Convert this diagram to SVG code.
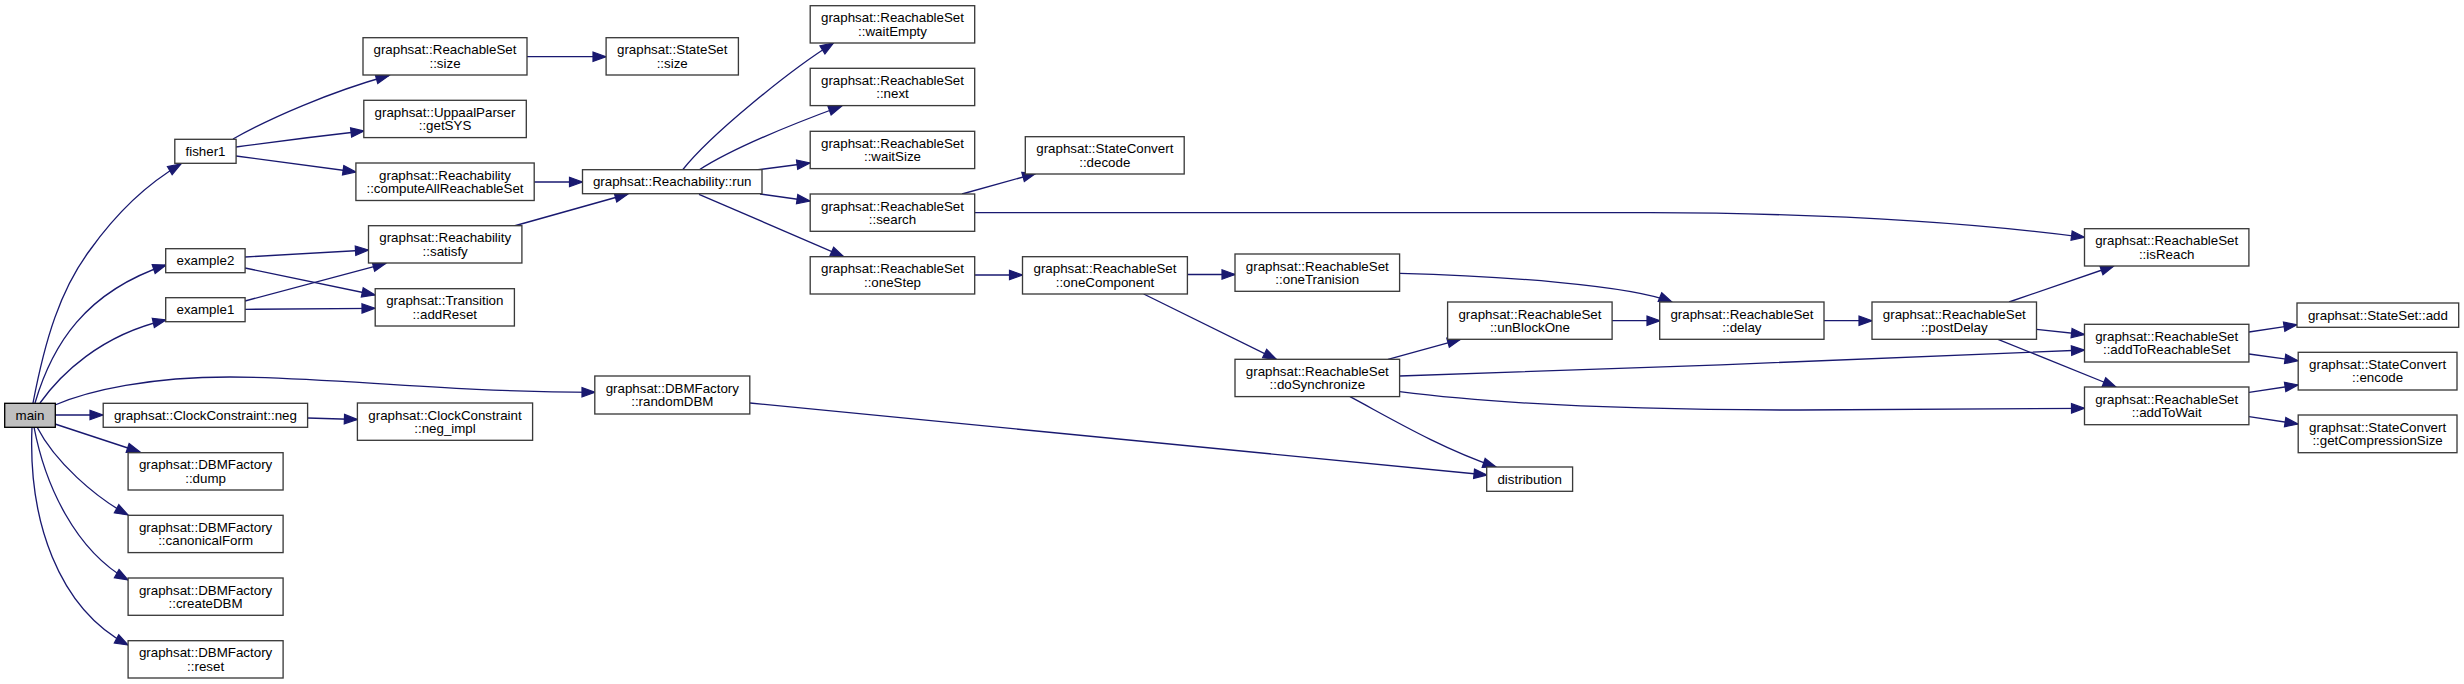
<svg xmlns="http://www.w3.org/2000/svg" width="2464" height="684" viewBox="0 0 2464 684">
<style>
.node rect{fill:#ffffff;stroke:#3a3a3a;stroke-width:1.33}
.node.root rect{fill:#bfbfbf;stroke:#000000}
.node text{font-family:"Liberation Sans",Arial,Helvetica,sans-serif;font-size:13.33px;text-anchor:middle;fill:#000000}
.edges path{fill:none;stroke:#191970;stroke-width:1.33;marker-end:url(#arrow)}
</style>
<defs>
<marker id="arrow" markerUnits="userSpaceOnUse" markerWidth="16" markerHeight="12" refX="14" refY="6" orient="auto" overflow="visible">
<path d="M1,1.3 L14,6 L1,10.7 z" fill="#191970" stroke="#191970" stroke-width="1.2"/>
</marker>
</defs>
<rect x="0" y="0" width="2464" height="684" fill="#ffffff"/>
<g id="connectors" class="edges">
<path d="M33,403 C45,340 60,290 90,250 C115,215 145,185 181,164"/>
<path d="M35,403 C52,345 85,292 166,265"/>
<path d="M40,403 C60,375 100,335 166,320"/>
<path d="M55,405 C90,390 150,377 230,377 C330,377 440,392 595,392.3"/>
<path d="M55,415 L103,415"/>
<path d="M55,424 L140,452"/>
<path d="M37,427 C55,462 95,497 128,515"/>
<path d="M34,427 C45,485 75,550 128,580"/>
<path d="M32,427 C28,520 58,608 128,645"/>
<path d="M233,139 C270,118 330,92 389,75.5"/>
<path d="M236,147 C280,141 320,136 364,131"/>
<path d="M236,156 C280,162 320,167 356,172"/>
<path d="M245,257 L368.5,250"/>
<path d="M245,268 L375,295"/>
<path d="M245,301 L386,263.3"/>
<path d="M245,309.3 L375,308.3"/>
<path d="M527,56.7 L606,56.7"/>
<path d="M534,182 L582.5,182"/>
<path d="M514,226 L628,194"/>
<path d="M307.6,418 L357.4,419.5"/>
<path d="M750,403 L1487,475"/>
<path d="M682.5,170 C710,135 790,70 833.5,43"/>
<path d="M699,170 C730,150 790,125 841.7,106"/>
<path d="M756,170 L810,163"/>
<path d="M760,194 L810,201"/>
<path d="M699,194.3 L843.7,256.7"/>
<path d="M962,194 L1035.6,173.5"/>
<path d="M975,212.7 L1650,212.7 C1800,213 1950,220 2084.5,237.3"/>
<path d="M974.7,275 L1022.5,275"/>
<path d="M1187.4,274.5 L1235,274.5"/>
<path d="M1143.7,294 L1276.3,359.3"/>
<path d="M1400,273.3 C1500,276 1630,285 1672,302"/>
<path d="M1388,359.3 L1460.6,339.3"/>
<path d="M1399.6,376 C1600,370 1900,358 2084.5,350"/>
<path d="M1399.6,391.7 C1480,402 1600,410 1800,410 L2084.5,408.3"/>
<path d="M1350,396.7 C1390,418 1440,448 1496,467"/>
<path d="M1612,320.7 L1660,320.7"/>
<path d="M1824,320.7 L1872,320.7"/>
<path d="M2009,302 L2113.7,266"/>
<path d="M2036.5,329.3 L2084.5,334.5"/>
<path d="M1998,339.3 L2116,387"/>
<path d="M2249,332 L2297,324.7"/>
<path d="M2249,354 L2298,360.7"/>
<path d="M2249,392.3 L2298,385"/>
<path d="M2249,416.7 L2298,424"/>
</g>
<g id="n_main" class="node root"><rect x="4.7" y="403.3" width="50.6" height="24"/><text x="30" y="420">main</text></g>
<g id="n_fisher1" class="node"><rect x="174.8" y="139.3" width="61.3" height="24"/><text x="205.5" y="156">fisher1</text></g>
<g id="n_example2" class="node"><rect x="165.7" y="248.7" width="79.4" height="24"/><text x="205.4" y="265.4">example2</text></g>
<g id="n_example1" class="node"><rect x="165.7" y="297.7" width="79.4" height="24"/><text x="205.4" y="314.4">example1</text></g>
<g id="n_neg" class="node"><rect x="103.2" y="403.3" width="204.4" height="24"/><text x="205.4" y="420">graphsat::ClockConstraint::neg</text></g>
<g id="n_dump" class="node"><rect x="128.1" y="452.7" width="155" height="37.3"/><text x="205.6" y="469.4">graphsat::DBMFactory</text><text x="205.6" y="482.7">::dump</text></g>
<g id="n_canonicalForm" class="node"><rect x="128.1" y="515.3" width="155" height="37.3"/><text x="205.6" y="532">graphsat::DBMFactory</text><text x="205.6" y="545.3">::canonicalForm</text></g>
<g id="n_createDBM" class="node"><rect x="128.1" y="578" width="155" height="37.3"/><text x="205.6" y="594.7">graphsat::DBMFactory</text><text x="205.6" y="608">::createDBM</text></g>
<g id="n_reset" class="node"><rect x="128.1" y="640.7" width="155" height="37.3"/><text x="205.6" y="657.4">graphsat::DBMFactory</text><text x="205.6" y="670.7">::reset</text></g>
<g id="n_rs_size" class="node"><rect x="363" y="37.7" width="164" height="37.3"/><text x="445" y="54.4">graphsat::ReachableSet</text><text x="445" y="67.7">::size</text></g>
<g id="n_getSYS" class="node"><rect x="363.8" y="100.3" width="162.5" height="37.3"/><text x="445" y="117">graphsat::UppaalParser</text><text x="445" y="130.3">::getSYS</text></g>
<g id="n_computeAll" class="node"><rect x="355.9" y="163" width="178.3" height="37.5"/><text x="445" y="179.7">graphsat::Reachability</text><text x="445" y="193">::computeAllReachableSet</text></g>
<g id="n_satisfy" class="node"><rect x="368.5" y="225.7" width="153.4" height="37.3"/><text x="445.2" y="242.4">graphsat::Reachability</text><text x="445.2" y="255.7">::satisfy</text></g>
<g id="n_addReset" class="node"><rect x="375.2" y="288.7" width="139.2" height="37.3"/><text x="444.8" y="305.4">graphsat::Transition</text><text x="444.8" y="318.7">::addReset</text></g>
<g id="n_neg_impl" class="node"><rect x="357.4" y="403" width="175.2" height="37.3"/><text x="445" y="419.7">graphsat::ClockConstraint</text><text x="445" y="433">::neg_impl</text></g>
<g id="n_ss_size" class="node"><rect x="606.1" y="37.7" width="132.3" height="37.3"/><text x="672.2" y="54.4">graphsat::StateSet</text><text x="672.2" y="67.7">::size</text></g>
<g id="n_run" class="node"><rect x="582.5" y="169.7" width="179.5" height="24"/><text x="672.2" y="186.3">graphsat::Reachability::run</text></g>
<g id="n_randomDBM" class="node"><rect x="594.8" y="376" width="155" height="38"/><text x="672.3" y="392.7">graphsat::DBMFactory</text><text x="672.3" y="406">::randomDBM</text></g>
<g id="n_waitEmpty" class="node"><rect x="810.2" y="5.7" width="164.5" height="37.3"/><text x="892.5" y="22.4">graphsat::ReachableSet</text><text x="892.5" y="35.7">::waitEmpty</text></g>
<g id="n_next" class="node"><rect x="810.2" y="68.3" width="164.5" height="37.3"/><text x="892.5" y="85">graphsat::ReachableSet</text><text x="892.5" y="98.3">::next</text></g>
<g id="n_waitSize" class="node"><rect x="810.2" y="131.3" width="164.5" height="37.3"/><text x="892.5" y="148">graphsat::ReachableSet</text><text x="892.5" y="161.3">::waitSize</text></g>
<g id="n_search" class="node"><rect x="810.2" y="194" width="164.5" height="37.3"/><text x="892.5" y="210.7">graphsat::ReachableSet</text><text x="892.5" y="224">::search</text></g>
<g id="n_oneStep" class="node"><rect x="810.2" y="256.7" width="164.5" height="37.3"/><text x="892.5" y="273.4">graphsat::ReachableSet</text><text x="892.5" y="286.7">::oneStep</text></g>
<g id="n_decode" class="node"><rect x="1025.3" y="136.7" width="158.9" height="37.3"/><text x="1104.8" y="153.4">graphsat::StateConvert</text><text x="1104.8" y="166.7">::decode</text></g>
<g id="n_oneComponent" class="node"><rect x="1022.5" y="256.7" width="164.9" height="37.3"/><text x="1105" y="273.4">graphsat::ReachableSet</text><text x="1105" y="286.7">::oneComponent</text></g>
<g id="n_oneTranision" class="node"><rect x="1235" y="254" width="164.6" height="37.3"/><text x="1317.3" y="270.7">graphsat::ReachableSet</text><text x="1317.3" y="284">::oneTranision</text></g>
<g id="n_doSynchronize" class="node"><rect x="1235" y="359.3" width="164.6" height="37.3"/><text x="1317.3" y="376">graphsat::ReachableSet</text><text x="1317.3" y="389.3">::doSynchronize</text></g>
<g id="n_unBlockOne" class="node"><rect x="1447.6" y="302" width="164.5" height="37.3"/><text x="1529.9" y="318.7">graphsat::ReachableSet</text><text x="1529.9" y="332">::unBlockOne</text></g>
<g id="n_distribution" class="node"><rect x="1486.7" y="467" width="85.9" height="24.3"/><text x="1529.7" y="483.7">distribution</text></g>
<g id="n_delay" class="node"><rect x="1659.7" y="302" width="164.3" height="37.3"/><text x="1741.9" y="318.7">graphsat::ReachableSet</text><text x="1741.9" y="332">::delay</text></g>
<g id="n_postDelay" class="node"><rect x="1872" y="302" width="164.5" height="37.3"/><text x="1954.3" y="318.7">graphsat::ReachableSet</text><text x="1954.3" y="332">::postDelay</text></g>
<g id="n_isReach" class="node"><rect x="2084.5" y="228.7" width="164.4" height="37.3"/><text x="2166.7" y="245.4">graphsat::ReachableSet</text><text x="2166.7" y="258.7">::isReach</text></g>
<g id="n_addToReachableSet" class="node"><rect x="2084.5" y="324.3" width="164.4" height="37.7"/><text x="2166.7" y="341">graphsat::ReachableSet</text><text x="2166.7" y="354.3">::addToReachableSet</text></g>
<g id="n_addToWait" class="node"><rect x="2084.5" y="387" width="164.4" height="37.7"/><text x="2166.7" y="403.7">graphsat::ReachableSet</text><text x="2166.7" y="417">::addToWait</text></g>
<g id="n_ss_add" class="node"><rect x="2297" y="303" width="161.7" height="24.3"/><text x="2377.9" y="319.7">graphsat::StateSet::add</text></g>
<g id="n_encode" class="node"><rect x="2298.2" y="352.3" width="158.8" height="37.7"/><text x="2377.6" y="369">graphsat::StateConvert</text><text x="2377.6" y="382.3">::encode</text></g>
<g id="n_getCompressionSize" class="node"><rect x="2298.2" y="415" width="158.8" height="37.7"/><text x="2377.6" y="431.7">graphsat::StateConvert</text><text x="2377.6" y="445">::getCompressionSize</text></g>
</svg>
